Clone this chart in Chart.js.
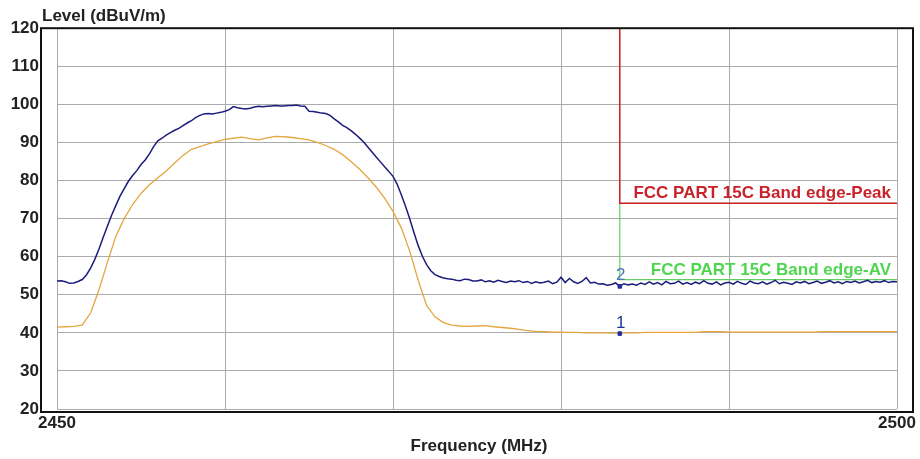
<!DOCTYPE html>
<html>
<head>
<meta charset="utf-8">
<title>Band edge level</title>
<script src="https://cdn.jsdelivr.net/npm/chart.js@4.4.1/dist/chart.umd.min.js"></script>
<style>
  html, body { margin: 0; padding: 0; background: #fff; }
  #levelChart { display: block; }
</style>
</head>
<body>
<canvas id="levelChart" width="920" height="459"></canvas>
<script>
// Sweep settings (MHz), both traces start at 2450 and end at 2500
const freqStart = 2450;
const peakStep = 0.25;
const avgStep = 0.5;

// Peak trace (dBuV/m), one reading every 0.25 MHz
const peakLevels = [
  53.6, 53.7, 53.4, 53.0, 53.1, 53.5, 54.0, 55.2, 57.0, 59.3,
  62.0, 65.1, 68.0, 70.9, 73.4, 75.9, 77.9, 79.8, 81.3, 82.6,
  84.2, 85.4, 87.0, 88.9, 90.4, 91.1, 91.9, 92.6, 93.2, 93.7,
  94.4, 95.1, 95.7, 96.5, 97.1, 97.5, 97.6, 97.5, 97.7, 97.9,
  98.2, 98.6, 99.4, 99.1, 98.9, 98.8, 99.0, 99.3, 99.5, 99.4,
  99.5, 99.6, 99.7, 99.6, 99.6, 99.7, 99.7, 99.8, 99.6, 99.5,
  98.2, 98.1, 97.9, 97.7, 97.6, 97.1, 96.2, 95.4, 94.5, 93.9,
  93.1, 92.2, 91.2, 90.1, 88.8, 87.5, 86.2, 84.9, 83.6, 82.4,
  81.1, 79.0, 76.2, 73.2, 69.9, 66.3, 62.9, 60.1, 57.9, 56.3,
  55.3, 54.8, 54.4, 54.2, 54.1, 53.8, 53.7, 54.1, 54.0, 53.6,
  53.6, 53.9, 53.4, 53.7, 53.3, 53.8, 53.5, 53.2, 53.6, 53.4,
  53.7, 53.2, 53.5, 53.0, 53.4, 53.1, 53.3, 53.6, 52.9, 53.3,
  54.6, 53.2, 54.3, 53.4, 53.0, 53.5, 54.5, 53.1, 53.3, 52.8,
  52.9, 52.5, 52.7, 53.1, 52.2, 52.9, 52.6, 52.8, 52.5, 53.1,
  52.7, 53.4, 52.8, 53.2, 52.6, 53.5, 52.9, 53.0, 53.6, 52.8,
  53.2, 52.7, 53.3, 52.9, 53.7, 53.0, 52.8, 53.4, 52.6, 53.1,
  53.3, 52.8, 53.5, 53.0, 52.7, 53.6, 53.1, 52.9, 53.4, 52.8,
  53.2, 53.8, 52.9, 53.3, 53.0, 52.7, 53.4, 53.1, 53.5, 52.9,
  53.2, 53.6, 53.0, 53.3, 53.7, 53.1, 53.4, 52.9, 53.5, 53.2,
  53.6, 53.1, 53.4, 53.8, 53.2, 53.5, 53.3, 53.7, 53.2, 53.5,
  53.4
];

// Average trace (dBuV/m), one reading every 0.5 MHz
const avgLevels = [
  41.5, 41.6, 41.7, 42.0, 45.2, 51.3, 58.5, 65.3, 70.0, 73.7,
  76.6, 78.9, 80.7, 82.5, 84.6, 86.6, 88.2, 88.9, 89.6, 90.2,
  90.8, 91.1, 91.4, 91.0, 90.7, 91.2, 91.6, 91.5, 91.3, 91.0,
  90.7, 90.0, 89.2, 88.2, 86.8, 85.0, 83.0, 80.8, 78.3, 75.4,
  71.9, 67.5, 61.4, 53.8, 47.2, 44.2, 42.7, 42.0, 41.8, 41.7,
  41.8, 41.9, 41.6, 41.4, 41.2, 40.9, 40.6, 40.4, 40.3, 40.2,
  40.2, 40.1, 40.1, 40.0, 40.0, 40.0, 39.9, 39.9, 40.0, 40.0,
  40.1, 40.1, 40.1, 40.1, 40.1, 40.1, 40.1, 40.3, 40.3, 40.3,
  40.2, 40.2, 40.2, 40.2, 40.2, 40.2, 40.2, 40.2, 40.2, 40.2,
  40.2, 40.3, 40.3, 40.3, 40.3, 40.3, 40.3, 40.3, 40.3, 40.3,
  40.3
];

// Limit lines (step at the restricted band edge)
const peakLimitFreqs = [2483.5, 2483.5, 2500];
const peakLimitLevels = [120, 74, 74];
const avLimitFreqs = [2483.5, 2483.5, 2500];
const avLimitLevels = [74, 54, 54];
const peakLimitLabel = "FCC PART 15C Band edge-Peak";
const avLimitLabel = "FCC PART 15C Band edge-AV";

// Markers
const markerFreqs = [2483.5, 2483.5];
const markerLevels = [39.8, 52.2];
const markerNames = ["1", "2"];

// Axes
const xTickLabels = [2450, 2500];
const yTitle = "Level (dBuV/m)";
const xTitle = "Frequency (MHz)";

const FONT = "'Liberation Sans', Arial, sans-serif";

function toPoints(xs, ys) {
  return ys.map((y, i) => ({ x: xs[i], y: y }));
}
const peakFreqs = peakLevels.map((v, i) => freqStart + i * peakStep);
const avgFreqs = avgLevels.map((v, i) => freqStart + i * avgStep);

// Frame, titles, limit names and marker numbers
const decorPlugin = {
  id: "decor",
  afterDraw(chart) {
    const ctx = chart.ctx;
    const area = chart.chartArea;
    const xs = chart.scales.x;
    const ys = chart.scales.y;
    ctx.save();

    // black frame round the plot
    ctx.strokeStyle = "#111";
    ctx.lineWidth = 2;
    ctx.strokeRect(area.left - 16, area.top, area.right - area.left + 32, area.bottom - area.top + 3);

    // axis titles
    ctx.fillStyle = "#222";
    ctx.font = "bold 17px " + FONT;
    ctx.textBaseline = "alphabetic";
    ctx.textAlign = "left";
    ctx.fillText(yTitle, area.left - 15, 21);
    ctx.textAlign = "center";
    ctx.fillText(xTitle, (area.left + area.right) / 2 + 2, 451);

    // limit line names
    ctx.textAlign = "right";
    ctx.fillStyle = "#c8232a";
    ctx.fillText(peakLimitLabel, xs.getPixelForValue(2500) - 6, ys.getPixelForValue(74) - 5);
    ctx.fillStyle = "#4fd64f";
    ctx.fillText(avLimitLabel, xs.getPixelForValue(2500) - 6, ys.getPixelForValue(54) - 5);

    // marker numbers
    ctx.textAlign = "center";
    ctx.font = "17px " + FONT;
    const colors = ["#1f3291", "#4a74b4"];
    markerFreqs.forEach((f, i) => {
      ctx.fillStyle = colors[i];
      ctx.fillText(markerNames[i], xs.getPixelForValue(f) + 1, ys.getPixelForValue(markerLevels[i]) - 6);
    });
    ctx.restore();
  },
};

const chart = new Chart(document.getElementById("levelChart"), {
  type: "line",
  data: {
    datasets: [
      {
        label: "Markers",
        type: "scatter",
        data: toPoints(markerFreqs, markerLevels),
        pointStyle: "rect",
        pointRadius: 2.5,
        backgroundColor: "#1f2f9a",
        borderColor: "#1f2f9a",
        order: 0,
      },
      {
        label: "Peak",
        data: toPoints(peakFreqs, peakLevels),
        borderColor: "#1c1c7c",
        borderWidth: 1.5,
        pointRadius: 0,
        tension: 0,
        order: 1,
      },
      {
        label: "Average",
        data: toPoints(avgFreqs, avgLevels),
        borderColor: "#e3a640",
        borderWidth: 1.3,
        pointRadius: 0,
        tension: 0,
        order: 2,
      },
      {
        label: "Peak limit",
        data: toPoints(peakLimitFreqs, peakLimitLevels),
        borderColor: "#c81e1e",
        borderWidth: 1.5,
        pointRadius: 0,
        tension: 0,
        order: 3,
      },
      {
        label: "AV limit",
        data: toPoints(avLimitFreqs, avLimitLevels),
        borderColor: "#62cc62",
        borderWidth: 1.2,
        pointRadius: 0,
        tension: 0,
        order: 4,
      },
    ],
  },
  options: {
    responsive: false,
    animation: false,
    devicePixelRatio: 1,
    layout: {
      padding: { left: 0, right: 23, top: 27, bottom: 0 },
    },
    plugins: {
      legend: { display: false },
      tooltip: { enabled: false },
    },
    scales: {
      x: {
        type: "linear",
        min: 2450,
        max: 2500,
        afterFit: (scale) => {
          scale.height = 50;
        },
        ticks: {
          stepSize: 10,
          autoSkip: false,
          maxRotation: 0,
          padding: 4,
          color: "#222",
          font: { family: FONT, size: 17, weight: "bold" },
          callback: (v) => (xTickLabels.includes(v) ? String(v) : ""),
        },
        grid: { color: "#ababab", drawTicks: false },
        border: { display: false },
      },
      y: {
        min: 20,
        max: 120,
        afterFit: (scale) => {
          scale.width = 57;
        },
        ticks: {
          stepSize: 10,
          padding: 18,
          color: "#222",
          font: { family: FONT, size: 17, weight: "bold" },
        },
        grid: { color: "#ababab", drawTicks: false },
        border: { display: false },
      },
    },
  },
  plugins: [decorPlugin],
});
</script>
</body>
</html>
